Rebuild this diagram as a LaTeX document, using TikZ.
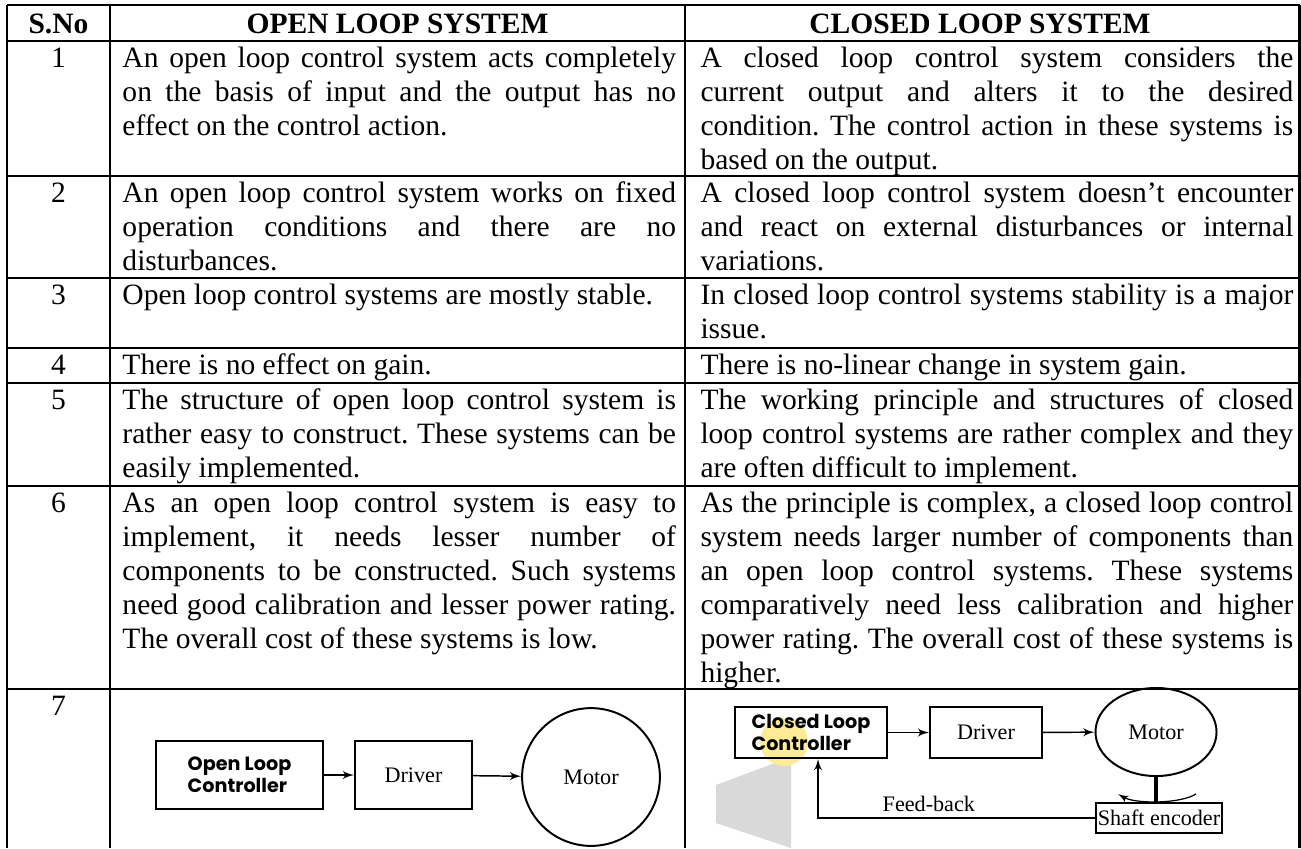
\documentclass[tikz,border=0pt]{standalone}
\usepackage{fontspec}
\setmainfont{Liberation Serif}
\newfontfamily\ctrlfont{Poppins}
\usepackage{xcolor}
\usepackage{tikz}
\usetikzlibrary{positioning}
\usetikzlibrary{arrows}
\usetikzlibrary{shapes.geometric}
\tikzset{edge/.style = {->,> = latex'}}
\frenchspacing

\begin{document}
\begin{tikzpicture}[x=0.4065pt,y=-0.4065pt,
  rule/.style={line width=1pt},
  txt/.style={inner sep=0pt,font=\fontsize{12}{13.8}\selectfont},
  cell/.style={txt,anchor=north west,align=justify},
  num/.style={txt,anchor=base},
  head/.style={txt,anchor=base,font=\fontsize{12}{13.8}\selectfont\bfseries},
  block/.style={draw,line width=0.8pt,inner sep=0pt,font=\fontsize{9}{10}\selectfont},
  ctrl/.style={block,align=left,font=\fontsize{7.8}{9}\ctrlfont\bfseries}]

\useasboundingbox (0,0) rectangle (1301,848);

% table rules
\foreach \y in {5,41,176,278,348,383,486,689}
  \draw[rule] (7,\y) -- (1299.5,\y);
\foreach \x in {7,110,685,1299.5}
  \draw[rule] (\x,5) -- (\x,848);

% header
\node[head] (h0) at (58.5,33) {S.No};
\node[head] (h1) at (397.5,33) {OPEN LOOP SYSTEM};
\node[head] (h2) at (980,33) {CLOSED LOOP SYSTEM};

% numbers
\node[num] (n1) at (58.5,67) {1};
\node[num] (n2) at (58.5,202) {2};
\node[num] (n3) at (58.5,304) {3};
\node[num] (n4) at (58.5,374) {4};
\node[num] (n5) at (58.5,409) {5};
\node[num] (n6) at (58.5,512) {6};
\node[num] (n7) at (58.5,715) {7};

% open loop column
\node[cell,text width=225pt] (o1) at (122,43) {\strut An open loop control system acts completely\linebreak on the basis of input and the output has no\linebreak effect on the control action.};
\node[cell,text width=225pt] (o2) at (122,178) {\strut An open loop control system works on fixed\linebreak operation conditions and there are no\linebreak disturbances.};
\node[cell,text width=225pt] (o3) at (122,280) {\strut Open loop control systems are mostly stable.};
\node[cell,text width=225pt] (o4) at (122,350) {\strut There is no effect on gain.};
\node[cell,text width=225pt] (o5) at (122,385) {\strut The structure of open loop control system is\linebreak rather easy to construct. These systems can be\linebreak easily implemented.};
\node[cell,text width=225pt] (o6) at (122,488) {\strut As an open loop control system is easy to\linebreak implement, it needs lesser number of\linebreak components to be constructed. Such systems\linebreak need good calibration and lesser power rating.\linebreak The overall cost of these systems is low.};

% closed loop column
\node[cell,text width=241pt] (c1) at (700,43) {\strut A closed loop control system considers the\linebreak current output and alters it to the desired\linebreak condition. The control action in these systems is\linebreak based on the output.};
\node[cell,text width=241pt] (c2) at (700,178) {\strut A closed loop control system doesn’t encounter\linebreak and react on external disturbances or internal\linebreak variations.};
\node[cell,text width=241pt] (c3) at (700,280) {\strut In closed loop control systems stability is a major\linebreak issue.};
\node[cell,text width=241pt] (c4) at (700,350) {\strut There is no-linear change in system gain.};
\node[cell,text width=241pt] (c5) at (700,385) {\strut The working principle and structures of closed\linebreak loop control systems are rather complex and they\linebreak are often difficult to implement.};
\node[cell,text width=241pt] (c6) at (700,488) {\strut As the principle is complex, a closed loop control\linebreak system needs larger number of components than\linebreak an open loop control systems. These systems\linebreak comparatively need less calibration and higher\linebreak power rating. The overall cost of these systems is\linebreak higher.};

% open loop diagram
\node[ctrl,minimum width=67.9pt,minimum height=27.6pt] (olc) at (239.5,775) {Open Loop\\Controller};
\node[block,minimum width=47.6pt,minimum height=27.6pt] (old) at (413.5,775) {Driver};
\node[block,circle,minimum size=56pt] (olm) at (591,777) {Motor};
\path[edge,line width=0.6pt] (olc) edge (old);
\path[edge,line width=0.6pt] (old) edge (olm);

% pointer marks over the closed loop cell
\fill[gray!30] (716,785) -- (791,757) -- (791,848) -- (716,823) -- cycle;
\fill[yellow!70!orange!40] (784,742) circle (24);

% closed loop diagram
\coordinate (fbx) at (818,0);
\node[ctrl,minimum width=61.8pt,minimum height=20.7pt] (clc) at (811,732.5) {Closed Loop\\Controller};
\node[block,minimum width=45.5pt,minimum height=20.7pt] (cld) at (986,732.5) {Driver};
\node[block,ellipse,minimum width=49.2pt,minimum height=35.8pt] (clm) at (1156,732) {Motor};
\node[block,minimum width=51.2pt,minimum height=12.5pt] (enc) at (1159,818) {Shaft encoder};
\path[edge,line width=0.6pt] (clc) edge (cld);
\path[edge,line width=0.6pt] (cld) edge (clm);
\draw[line width=1.8pt] (clm.south) -- (clm.south |- enc.north);
\draw[edge,line width=0.5pt] (1196,794) .. controls (1180,804) and (1135,804) .. (1118,794);
\draw[edge,line width=0.6pt] (enc.west) -| (clc.south -| fbx) node[pos=0.3,above=-1pt,font=\fontsize{9}{10}\selectfont] (fbl) {Feed-back};

\end{tikzpicture}
\end{document}
